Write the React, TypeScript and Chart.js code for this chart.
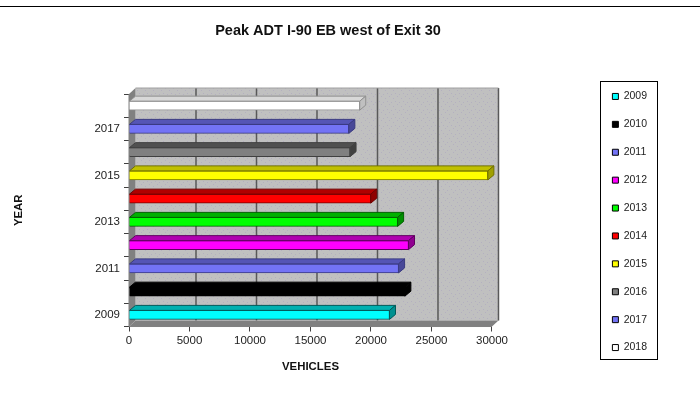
import React, { useEffect, useRef } from "react";
import { Chart, registerables } from "chart.js";

Chart.register(...registerables);

const years = ["2009", "2010", "2011", "2012", "2013", "2014", "2015", "2016", "2017", "2018"];
const vehicles = [21530, 22800, 22280, 23100, 22200, 19980, 29660, 18270, 18170, 19070];
const frontColors = ["#00ffff", "#000000", "#7373f5", "#ff00ff", "#00ff00", "#ff0000", "#ffff00", "#808080", "#7373f5", "#ffffff"];
const edgeColors = ["#005a5a", "#000000", "#3a3a80", "#600060", "#006000", "#700000", "#707000", "#404040", "#3a3a80", "#909090"];
const topColors = ["#00b0b0", "#000000", "#5555b5", "#b000b0", "#00b000", "#b00000", "#c0c000", "#505050", "#5555b5", "#d8d8d8"];
const sideColors = ["#009090", "#000000", "#484898", "#900090", "#009000", "#900000", "#a0a000", "#404040", "#484898", "#c0c0c0"];
const xTicks = [0, 5000, 10000, 15000, 20000, 25000, 30000];

const DEPTH_X = 6.5;
const DEPTH_Y = 6;
const BAR_DEPTH_X = 6;
const BAR_DEPTH_Y = 5;

function wallPattern(ctx: CanvasRenderingContext2D) {
  const tile = document.createElement("canvas");
  tile.width = 8;
  tile.height = 8;
  const t = tile.getContext("2d")!;
  t.fillStyle = "#c0c0c0";
  t.fillRect(0, 0, 8, 8);
  t.fillStyle = "#b4b0c0";
  t.fillRect(1, 2, 1, 1);
  t.fillRect(5, 0, 1, 1);
  t.fillRect(3, 5, 1, 1);
  t.fillRect(7, 6, 1, 1);
  return ctx.createPattern(tile, "repeat")!;
}

function poly(ctx: CanvasRenderingContext2D, pts: number[][], fill: string | CanvasPattern, stroke?: string) {
  ctx.beginPath();
  pts.forEach(([x, y], i) => (i ? ctx.lineTo(x, y) : ctx.moveTo(x, y)));
  ctx.closePath();
  ctx.fillStyle = fill;
  ctx.fill();
  if (stroke) {
    ctx.strokeStyle = stroke;
    ctx.lineWidth = 1;
    ctx.stroke();
  }
}

const walls = {
  id: "walls",
  afterLayout(chart: any) {
    const lg = chart.legend;
    lg.left += 1;
    lg.right += 1;
    lg.top += 24;
    lg.bottom += 24;
  },
  beforeDatasetsDraw(chart: any) {
    const { ctx, chartArea: a, scales } = chart;
    const { left: l, right: r, top: t, bottom: b } = a;
    ctx.save();
    poly(ctx, [[l + DEPTH_X, t - DEPTH_Y], [r + DEPTH_X, t - DEPTH_Y], [r + DEPTH_X, b - DEPTH_Y], [l + DEPTH_X, b - DEPTH_Y]], wallPattern(ctx));
    poly(ctx, [[l, t], [l + DEPTH_X, t - DEPTH_Y], [l + DEPTH_X, b - DEPTH_Y], [l, b]], "#808080");
    poly(ctx, [[l, b], [l + DEPTH_X, b - DEPTH_Y], [r + DEPTH_X, b - DEPTH_Y], [r, b]], "#808080");
    ctx.strokeStyle = "#585858";
    ctx.lineWidth = 1.5;
    xTicks.slice(1).forEach((v) => {
      const x = scales.x.getPixelForValue(v) + DEPTH_X;
      ctx.beginPath();
      ctx.moveTo(x, t - DEPTH_Y);
      ctx.lineTo(x, b - DEPTH_Y);
      ctx.stroke();
    });
    ctx.strokeStyle = "#a0a0a0";
    ctx.lineWidth = 1;
    ctx.beginPath();
    ctx.moveTo(l + DEPTH_X, t - DEPTH_Y);
    ctx.lineTo(r + DEPTH_X, t - DEPTH_Y);
    ctx.stroke();
    ctx.strokeStyle = "#808080";
    ctx.beginPath();
    ctx.moveTo(l, t);
    ctx.lineTo(l, b);
    ctx.lineTo(r, b);
    ctx.stroke();
    ctx.restore();
  },
  afterDatasetsDraw(chart: any) {
    const { ctx } = chart;
    ctx.save();
    chart.data.datasets.forEach((_: any, i: number) => {
      const el = chart.getDatasetMeta(i).data[i];
      if (!el) return;
      const { x, y, base, height } = el.getProps(["x", "y", "base", "height"], true);
      const top = y - height / 2;
      const bottom = y + height / 2;
      poly(ctx, [[base, top], [base + BAR_DEPTH_X, top - BAR_DEPTH_Y], [x + BAR_DEPTH_X, top - BAR_DEPTH_Y], [x, top]], topColors[i], edgeColors[i]);
      poly(ctx, [[x, top], [x + BAR_DEPTH_X, top - BAR_DEPTH_Y], [x + BAR_DEPTH_X, bottom - BAR_DEPTH_Y], [x, bottom]], sideColors[i], edgeColors[i]);
    });
    ctx.restore();
  },
  afterDraw(chart: any) {
    const { ctx } = chart;
    ctx.save();
    ctx.strokeStyle = "#000000";
    ctx.lineWidth = 1;
    ctx.beginPath();
    ctx.moveTo(0, 6.5);
    ctx.lineTo(700, 6.5);
    ctx.stroke();
    ctx.strokeRect(600.5, 81.5, 57, 278);
    ctx.restore();
  },
};

export default function App() {
  const ref = useRef<HTMLCanvasElement>(null);
  useEffect(() => {
    document.body.style.margin = "0";
    const chart = new Chart(ref.current!, {
      type: "bar",
      data: {
        labels: years,
        datasets: years.map((year, i) => ({
          label: year,
          data: years.map((_, j) => (j === i ? vehicles[i] : null)),
          backgroundColor: frontColors[i],
          borderColor: edgeColors[i],
          borderWidth: 1,
          barThickness: 9,
        })),
      },
      options: {
        indexAxis: "y",
        responsive: false,
        animation: false,
        layout: { padding: { top: 22, left: 0, right: 44, bottom: 26 } },
        plugins: {
          tooltip: { enabled: false },
          title: {
            display: true,
            text: "Peak ADT I-90 EB west of Exit 30",
            color: "#111111",
            font: { family: "Liberation Sans", size: 14.5, weight: "bold" },
            padding: { top: 0, bottom: 54.6 },
          },
          legend: {
            position: "right",
            labels: {
              boxWidth: 6,
              boxHeight: 6,
              padding: 17.4,
              color: "#222222",
              font: { family: "Liberation Sans", size: 10.5 },
              generateLabels: (c: any) =>
                c.data.datasets.map((d: any, i: number) => ({
                  text: d.label,
                  fillStyle: frontColors[i],
                  strokeStyle: "#000000",
                  lineWidth: 1,
                  datasetIndex: i,
                  fontColor: "#222222",
                })),
            },
          },
        },
        scales: {
          x: {
            type: "linear",
            min: 0,
            max: 30000,
            stacked: true,
            afterBuildTicks: (s: any) => {
              s.ticks = xTicks.map((value) => ({ value }));
            },
            grid: { drawOnChartArea: false, tickLength: 5, color: "#404040" },
            border: { display: false },
            ticks: {
              color: "#222222",
              padding: 2,
              maxRotation: 0,
              font: { family: "Liberation Sans", size: 11.5 },
              callback: (v: any) => String(v),
            },
            title: {
              display: true,
              text: "VEHICLES",
              color: "#111111",
              font: { family: "Liberation Sans", size: 11.4, weight: "bold" },
              padding: { top: 11, bottom: 0 },
            },
          },
          y: {
            type: "category",
            reverse: true,
            stacked: true,
            afterFit: (s: any) => {
              s.width = 129;
            },
            grid: { drawOnChartArea: false, tickLength: 5, color: "#404040" },
            border: { display: false },
            ticks: {
              autoSkip: false,
              color: "#222222",
              padding: 4,
              font: { family: "Liberation Sans", size: 11.5 },
              callback: (_: any, i: number) => (i % 2 === 0 ? years[i] : ""),
            },
            title: {
              display: true,
              text: "YEAR",
              color: "#111111",
              font: { family: "Liberation Sans", size: 11.4, weight: "bold" },
              padding: { top: 12, bottom: 0 },
            },
          },
          spacer: {
            type: "linear",
            axis: "y",
            position: "right",
            min: 0,
            max: 1,
            afterFit: (s: any) => {
              s.width = 102;
            },
            grid: { display: false },
            border: { display: false },
            ticks: { display: false },
          },
        },
      } as any,
      plugins: [walls],
    });
    return () => chart.destroy();
  }, []);
  return <canvas ref={ref} width={700} height={400} style={{ display: "block" }} />;
}
